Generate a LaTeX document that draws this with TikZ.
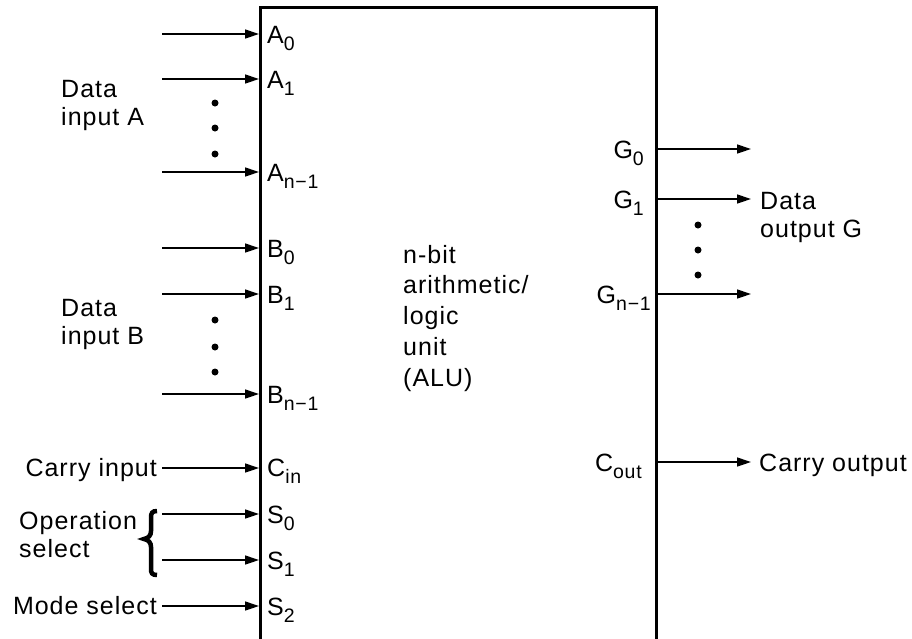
\documentclass[tikz,border=0pt]{standalone}
\usepackage{fontspec}
\setmainfont{Liberation Sans}[LetterSpace=4]
\usetikzlibrary{arrows.meta}
\newcommand{\pinsub}[1]{\raisebox{-7.5pt}{\fontsize{19.5}{19.5}\selectfont #1}}
\begin{document}
\begin{tikzpicture}[x=1pt,y=-1pt,
  sig/.style={line width=1.4pt,-{Triangle[length=14pt,width=9pt]}},
  lbl/.style={font=\fontsize{25}{28}\selectfont,inner sep=0pt},
  pinlbl/.style={lbl,anchor=base west},
  outlbl/.style={lbl,anchor=base east},
  bigdot/.style={circle,fill,inner sep=0pt,minimum size=7pt},
  bracestyle/.style={line width=4.5pt}]
\useasboundingbox (0,0) rectangle (912,638);
\clip (0,0) rectangle (912,638);
% ALU box
\node[draw,line width=2.6pt,minimum width=396pt,minimum height=700pt,anchor=north west,inner sep=0pt] (alu) at (259,6) {};
% left pins
\foreach \n/\y in {A0/34,A1/79,An/172,B0/248,B1/294,Bn/394,Cin/468,S0/514,S1/560,S2/606}{
  \coordinate (p\n) at (259,\y);
  \coordinate (s\n) at (162,\y);
}
\foreach \n in {A0,A1,An,B0,B1,Bn,S0,S1}{ \draw[sig] (s\n) -- (p\n); }
\node[pinlbl] (lA0) at (267,43) {A\pinsub{0}};
\node[pinlbl] (lA1) at (267,88) {A\pinsub{1}};
\node[pinlbl] (lAn) at (267,181) {A\pinsub{n−1}};
\node[pinlbl] (lB0) at (267,257) {B\pinsub{0}};
\node[pinlbl] (lB1) at (267,303) {B\pinsub{1}};
\node[pinlbl] (lBn) at (267,403) {B\pinsub{n−1}};
\node[pinlbl] (lCin) at (267,476) {C\pinsub{in}};
\node[pinlbl] (lS0) at (267,523) {S\pinsub{0}};
\node[pinlbl] (lS1) at (267,569) {S\pinsub{1}};
\node[pinlbl] (lS2) at (267,615) {S\pinsub{2}};
% left dots
\foreach \y [count=\i] in {103,128,154}{ \node[bigdot] (da\i) at (215,\y) {}; }
\foreach \y [count=\i] in {320,347,372}{ \node[bigdot] (db\i) at (215,\y) {}; }
% left texts
\node[lbl,anchor=base west,align=left] (dataA) at (61,125) {Data\\input A};
\node[lbl,anchor=base west,align=left] (dataB) at (61,344) {Data\\input B};
\node[lbl,anchor=base east] (carryin) at (157,476) {Carry input};
\draw[sig] (carryin.east |- pCin) ++(5,0) coordinate (cs) -- (pCin);
\node[lbl,anchor=base west,align=left] (opsel) at (19,557) {Operation\\select};
\draw[bracestyle] (157,511) .. controls (152,511) and (151,513) .. (151,518) -- (151,531)
  .. controls (151,535) and (149,538) .. (144,539)
  .. controls (149,540) and (151,543) .. (151,547) -- (151,569)
  .. controls (151,573) and (152,575) .. (157,575);
\node[lbl,anchor=base east] (modesel) at (157,614) {Mode select};
\draw[sig] (modesel.east |- pS2) ++(5,0) coordinate (ms) -- (pS2);
% right pins
\foreach \n/\y in {G0/149,G1/199,Gn/294,Cout/462}{
  \coordinate (q\n) at (655,\y);
  \coordinate (t\n) at (751,\y);
  \draw[sig] (q\n) -- (t\n);
}
\node[outlbl] (lG0) at (644,158) {G\pinsub{0}};
\node[outlbl] (lG1) at (644,208) {G\pinsub{1}};
\node[outlbl] (lGn) at (651,303) {G\pinsub{n−1}};
\node[outlbl] (lCout) at (642,471) {C\pinsub{out}};
\foreach \y [count=\i] in {225,250,275}{ \node[bigdot] (dg\i) at (698,\y) {}; }
\node[lbl,anchor=base west,align=left] (dataG) at (760,237) {Data\\output G};
\node[lbl,anchor=base west] (carryout) at (759,471) {Carry output};
% centre text
\node[lbl,anchor=base west,align=left,font=\fontsize{25}{30.7}\selectfont] (alutext) at (403,386) {n-bit\\arithmetic/\\logic\\unit\\(ALU)};
\end{tikzpicture}
\end{document}
